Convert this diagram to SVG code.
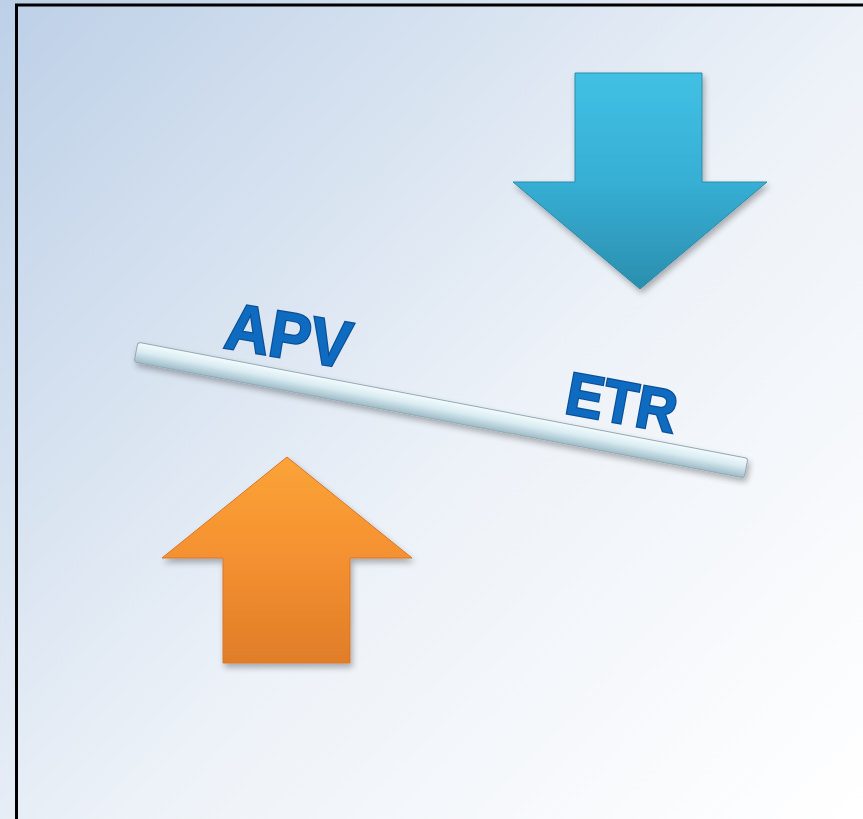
<svg xmlns="http://www.w3.org/2000/svg" width="863" height="819" viewBox="0 0 863 819">
<defs>
<linearGradient id="bg" x1="0" y1="0" x2="863" y2="819" gradientUnits="userSpaceOnUse">
<stop offset="0" stop-color="#bdd0e7"/>
<stop offset="0.55" stop-color="#edf2f8"/>
<stop offset="1" stop-color="#ffffff"/>
</linearGradient>
<linearGradient id="blue" x1="0" y1="0" x2="0" y2="1">
<stop offset="0" stop-color="#41c0e4"/>
<stop offset="0.5" stop-color="#37afd5"/>
<stop offset="1" stop-color="#2b8eae"/>
</linearGradient>
<linearGradient id="orange" x1="0" y1="0" x2="0" y2="1">
<stop offset="0" stop-color="#fba338"/>
<stop offset="0.5" stop-color="#f49030"/>
<stop offset="1" stop-color="#e07d28"/>
</linearGradient>
<linearGradient id="bar" x1="0" y1="0" x2="0" y2="1">
<stop offset="0" stop-color="#f4fbfd"/>
<stop offset="0.45" stop-color="#d9ecf2"/>
<stop offset="1" stop-color="#9fbcc8"/>
</linearGradient>
<filter id="sh" x="-10%" y="-10%" width="125%" height="125%">
<feGaussianBlur in="SourceAlpha" stdDeviation="3"/>
<feOffset dx="2" dy="4" result="b"/>
<feComponentTransfer><feFuncA type="linear" slope="0.3"/></feComponentTransfer>
<feMerge><feMergeNode/><feMergeNode in="SourceGraphic"/></feMerge>
</filter>
<style>
.lbl{font-family:"Liberation Sans",Arial,sans-serif;font-weight:bold;font-size:66px;fill:#0e6bbf;stroke:#0a4f96;stroke-width:2.5;paint-order:stroke;text-anchor:middle}
</style>
</defs>
<rect x="0" y="0" width="863" height="819" fill="url(#bg)"/>
<rect x="16.5" y="5" width="900" height="900" fill="none" stroke="#000" stroke-width="3"/>
<g id="down-arrow" filter="url(#sh)">
<path d="M575,73 L702,73 L702,182 L767,182 L640,289 L513,182 L575,182 Z" fill="url(#blue)" stroke="#2a8cab" stroke-width="1"/>
</g>
<g id="up-arrow" filter="url(#sh)">
<path d="M287,457 L412,558 L350,558 L350,663 L223,663 L223,558 L162,558 Z" fill="url(#orange)" stroke="#d9772a" stroke-width="1"/>
</g>
<g id="beam" filter="url(#sh)">
<rect x="0" y="-10" width="621" height="20" rx="3" fill="url(#bar)" stroke="#93aab5" stroke-width="1" transform="translate(136,352) rotate(10.77)"/>
</g>
<g id="label-apv">
<text class="lbl" transform="translate(285,358) rotate(9.5) scale(0.93,1)">APV</text>
</g>
<g id="label-etr">
<text class="lbl" transform="translate(618,423) rotate(10.5) scale(0.93,1)" style="font-size:60px">ETR</text>
</g>
<g id="connectors"></g>
</svg>
